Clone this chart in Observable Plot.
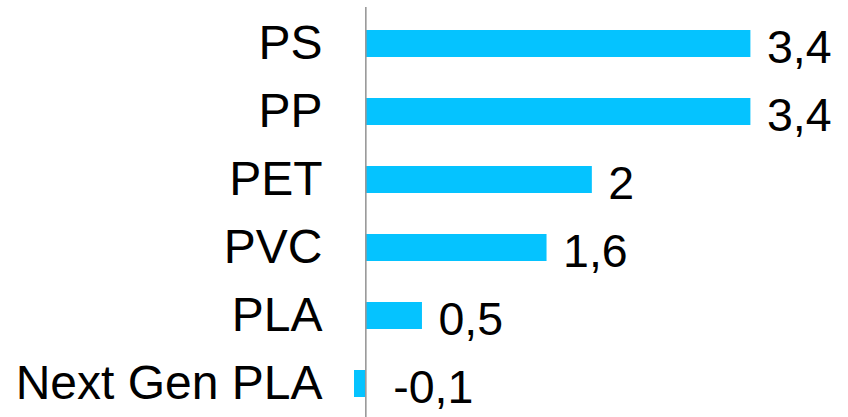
<!DOCTYPE html>
<html>
<head>
<meta charset="utf-8">
<script src="https://cdn.jsdelivr.net/npm/d3@7"></script>
<script src="https://cdn.jsdelivr.net/npm/@observablehq/plot@0.6"></script>
<style>
  html, body { margin: 0; padding: 0; background: #fff; }
</style>
</head>
<body>
<div id="chart"></div>
<script>
const categories = ["PS", "PP", "PET", "PVC", "PLA", "Next Gen PLA"];
const values = [3.4, 3.4, 2, 1.6, 0.5, -0.1];
const valueLabels = ["3,4", "3,4", "2", "1,6", "0,5", "-0,1"];

const data = categories.map((c, i) => ({ category: c, value: values[i], label: valueLabels[i] }));

const chart = Plot.plot({
  width: 848,
  height: 417,
  marginLeft: 354,
  marginRight: 7,
  marginTop: 13.5,
  marginBottom: 4,
  style: { fontFamily: "'Liberation Sans', Arial, sans-serif", background: "#fff", color: "#000" },
  x: { domain: [-0.1, 4.2], axis: null },
  y: { domain: categories, paddingInner: 0.6, paddingOuter: 0.2, label: null },
  marks: [
    Plot.barX(data, { y: "category", x: "value", fill: "#05C3FF" }),
    Plot.ruleX([0], { stroke: "#999", strokeWidth: 1.6, insetTop: -6.5, insetBottom: -4 }),
    Plot.axisY({ tickSize: 0, tickPadding: 32, fontSize: 48, label: null }),
    Plot.text(data, {
      y: "category",
      x: d => Math.abs(d.value),
      text: "label",
      textAnchor: "start",
      dx: 16,
      dy: 4,
      fontSize: 46.5,
      fill: "#000"
    })
  ]
});
document.getElementById("chart").appendChild(chart);
</script>
</body>
</html>
